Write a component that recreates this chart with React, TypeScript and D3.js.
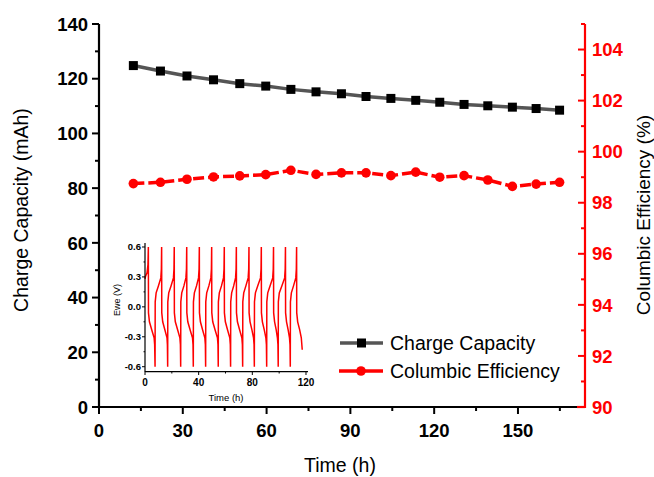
import React from "react";
import * as d3 from "d3";

const timeH = [12.3, 22.0, 31.5, 41.0, 50.4, 59.7, 68.7, 77.7, 86.8, 95.6, 104.5, 113.4, 122.0, 130.7, 139.2, 148.0, 156.5, 164.9];
const chargeCapacity = [124.8, 122.8, 121.0, 119.6, 118.2, 117.3, 116.1, 115.2, 114.5, 113.5, 112.8, 112.1, 111.4, 110.6, 110.1, 109.6, 109.1, 108.5];
const columbicEff = [98.75, 98.8, 98.92, 99.01, 99.05, 99.1, 99.27, 99.11, 99.17, 99.17, 99.06, 99.2, 99.0, 99.06, 98.89, 98.64, 98.73, 98.8];

const xTicks = [0, 30, 60, 90, 120, 150];
const yLeftTicks = [0, 20, 40, 60, 80, 100, 120, 140];
const yRightTicks = [90, 92, 94, 96, 98, 100, 102, 104];
const insetXTicks = [0, 40, 80, 120];
const insetYTicks = [-0.6, -0.3, 0.0, 0.3, 0.6];

// inset galvanostatic curve: [time (h), Ewe (V)]
const insetCurve: [number, number][] = [
  [0, 0.28], [0.5, 0.31], [1.5, 0.34], [2.2, 0.42], [2.5, 0.6],
  [2.6, -0.06], [3.3, -0.15], [5, -0.23], [6.8, -0.31], [7.2, -0.38], [7.5, -0.6],
  [7.6, 0.05], [8.3, 0.14], [10, 0.21], [11.8, 0.29], [12.2, 0.38], [12.4, 0.6],
  [12.5, -0.06], [13.2, -0.15], [14.8, -0.23], [16.4, -0.31], [16.7, -0.38], [16.9, -0.6],
  [17.0, 0.05], [17.7, 0.14], [19.4, 0.21], [21.2, 0.29], [21.6, 0.38], [21.8, 0.6],
  [21.9, -0.06], [22.6, -0.15], [24.3, -0.23], [26.0, -0.31], [26.4, -0.38], [26.6, -0.6],
  [26.7, 0.05], [27.4, 0.14], [29, 0.21], [30.5, 0.29], [30.9, 0.38], [31.1, 0.6],
  [31.2, -0.06], [31.9, -0.15], [33.6, -0.23], [35.4, -0.31], [35.8, -0.38], [36.0, -0.6],
  [36.1, 0.05], [36.8, 0.14], [38.4, 0.21], [39.9, 0.29], [40.3, 0.38], [40.5, 0.6],
  [40.6, -0.06], [41.3, -0.15], [42.9, -0.23], [44.6, -0.31], [45.0, -0.38], [45.2, -0.6],
  [45.3, 0.05], [46.0, 0.14], [47.6, 0.21], [49.1, 0.29], [49.5, 0.38], [49.7, 0.6],
  [49.8, -0.06], [50.5, -0.15], [52.2, -0.23], [54.0, -0.31], [54.4, -0.38], [54.6, -0.6],
  [54.7, 0.05], [55.4, 0.14], [57, 0.21], [58.5, 0.29], [58.9, 0.38], [59.1, 0.6],
  [59.2, -0.06], [59.9, -0.15], [61.5, -0.23], [63.2, -0.31], [63.6, -0.38], [63.8, -0.6],
  [63.9, 0.05], [64.6, 0.14], [66.1, 0.21], [67.5, 0.29], [67.9, 0.38], [68.1, 0.6],
  [68.2, -0.06], [68.9, -0.15], [70.5, -0.23], [72.2, -0.31], [72.6, -0.38], [72.8, -0.6],
  [72.9, 0.05], [73.6, 0.14], [75.2, 0.21], [76.9, 0.29], [77.3, 0.38], [77.5, 0.6],
  [77.6, -0.06], [78.3, -0.15], [79.7, -0.23], [80.9, -0.31], [81.3, -0.38], [81.5, -0.6],
  [81.6, 0.05], [82.3, 0.14], [84.0, 0.21], [86.1, 0.29], [86.5, 0.38], [86.7, 0.6],
  [86.8, -0.06], [87.5, -0.15], [88.9, -0.23], [90.1, -0.31], [90.5, -0.38], [90.7, -0.6],
  [90.8, 0.05], [91.5, 0.14], [93.2, 0.21], [95.2, 0.29], [95.6, 0.38], [95.8, 0.6],
  [95.9, -0.06], [96.6, -0.15], [97.8, -0.23], [98.7, -0.31], [99.1, -0.38], [99.3, -0.6],
  [99.4, 0.05], [100.1, 0.14], [102, 0.21], [104.1, 0.29], [104.5, 0.38], [104.7, 0.6],
  [104.8, -0.06], [105.5, -0.15], [106.7, -0.23], [107.7, -0.31], [108.1, -0.38], [108.3, -0.6],
  [108.4, 0.05], [109.1, 0.14], [110.7, 0.21], [112.4, 0.29], [112.8, 0.38], [113.0, 0.6],
  [113.1, -0.06], [113.8, -0.15], [115.3, -0.23], [116.5, -0.31], [117.2, -0.43],
];

const W = 654;
const H = 477;
const FONT = "Arial, 'Liberation Sans', sans-serif";
const RED = "#ff0000";

export default function App() {
  const x = d3.scaleLinear().domain([0, 174]).range([99, 585]);
  const yL = d3.scaleLinear().domain([0, 140]).range([407, 24]);
  const yR = d3.scaleLinear().domain([90, 105]).range([407, 24]);

  const ix = d3.scaleLinear().domain([0, 121.5]).range([145, 308]);
  const iy = d3.scaleLinear().domain([-0.65, 0.64]).range([371.7, 243]);

  const capLine = d3.line<number>().x((_, i) => x(timeH[i])).y((d) => yL(d));
  const effLine = d3.line<number>().x((_, i) => x(timeH[i])).y((d) => yR(d));
  const insetLine = d3.line<[number, number]>().x((d) => ix(d[0])).y((d) => iy(d[1]));

  const xMinor = d3.range(0, 175, 15).filter((v) => v % 30 !== 0);
  const yLMinor = d3.range(10, 140, 20);
  const yRMinor = d3.range(91, 106, 2);
  const ixMinor = [20, 60, 100];
  const iyMinor = [-0.45, -0.15, 0.15, 0.45];

  return (
    <svg width={W} height={H} style={{ position: "absolute", left: 0, top: 0 }} fontFamily={FONT}>
      <rect width={W} height={H} fill="#fff" />

      {/* left axis */}
      <line x1={99} x2={99} y1={yL(140)} y2={yL(0) + 1} stroke="#000" strokeWidth={2.2} />
      {yLeftTicks.map((t) => (
        <g key={"yl" + t}>
          <line x1={92} x2={99} y1={yL(t)} y2={yL(t)} stroke="#000" strokeWidth={2} />
          <text x={88} y={yL(t)} dy="0.36em" textAnchor="end" fontWeight="bold" fontSize={18.5}>{t}</text>
        </g>
      ))}
      {yLMinor.map((t) => (
        <line key={"ylm" + t} x1={95} x2={99} y1={yL(t)} y2={yL(t)} stroke="#000" strokeWidth={2} />
      ))}
      <line x1={99} x2={104} y1={yL(0)} y2={yL(0)} stroke="#000" strokeWidth={2} />

      {/* bottom axis */}
      <line x1={98} x2={585} y1={407} y2={407} stroke="#000" strokeWidth={2.2} />
      {xTicks.map((t) => (
        <g key={"x" + t}>
          <line x1={x(t)} x2={x(t)} y1={407} y2={414} stroke="#000" strokeWidth={2} />
          <text x={x(t)} y={437} textAnchor="middle" fontWeight="bold" fontSize={18.5}>{t}</text>
        </g>
      ))}
      {xMinor.map((t) => (
        <line key={"xm" + t} x1={x(t)} x2={x(t)} y1={407} y2={411} stroke="#000" strokeWidth={2} />
      ))}
      <text x={340} y={472} textAnchor="middle" fontSize={19.5}>Time (h)</text>

      {/* right axis */}
      <line x1={585} x2={585} y1={yR(105)} y2={yR(90) + 1} stroke={RED} strokeWidth={2.2} />
      <line x1={577} x2={585} y1={407} y2={407} stroke={RED} strokeWidth={2.2} />
      {yRightTicks.map((t) => (
        <g key={"yr" + t}>
          <line x1={578} x2={585} y1={yR(t)} y2={yR(t)} stroke={RED} strokeWidth={2} />
          <text x={592} y={yR(t)} dy="0.36em" textAnchor="start" fontWeight="bold" fontSize={18.5} fill={RED}>{t}</text>
        </g>
      ))}
      {yRMinor.map((t) => (
        <line key={"yrm" + t} x1={581} x2={585} y1={yR(t)} y2={yR(t)} stroke={RED} strokeWidth={2} />
      ))}

      {/* axis titles */}
      <text transform={`translate(28,210) rotate(-90)`} textAnchor="middle" fontSize={19.5}>Charge Capacity (mAh)</text>
      <text transform={`translate(650,215) rotate(-90)`} textAnchor="middle" fontSize={19}>Columbic Efficiency (%)</text>

      {/* series */}
      <path d={capLine(chargeCapacity) || ""} fill="none" stroke="#555" strokeWidth={3.5} />
      {chargeCapacity.map((v, i) => (
        <rect key={"s" + i} x={x(timeH[i]) - 4.5} y={yL(v) - 4.5} width={9} height={9} fill="#000" />
      ))}
      <path d={effLine(columbicEff) || ""} fill="none" stroke={RED} strokeWidth={3.5} strokeDasharray="11,4" />
      {columbicEff.map((v, i) => (
        <circle key={"c" + i} cx={x(timeH[i])} cy={yR(v)} r={4.8} fill={RED} />
      ))}

      {/* legend */}
      <line x1={340} x2={383} y1={343} y2={343} stroke="#555" strokeWidth={3.5} />
      <rect x={361.5 - 4.5} y={343 - 4.5} width={9} height={9} fill="#000" />
      <text x={390} y={343} dy="0.36em" fontSize={19.5}>Charge Capacity</text>
      <line x1={339} x2={383} y1={371} y2={371} stroke={RED} strokeWidth={3.5} />
      <circle cx={361} cy={371} r={4.8} fill={RED} />
      <text x={390} y={371} dy="0.36em" fontSize={19.5}>Columbic Efficiency</text>

      {/* inset */}
      <path d={insetLine(insetCurve) || ""} fill="none" stroke={RED} strokeWidth={1.5} />
      <line x1={145} x2={145} y1={243} y2={372} stroke="#000" strokeWidth={1.2} />
      <line x1={145} x2={308} y1={371.7} y2={371.7} stroke="#000" strokeWidth={1.2} />
      {insetYTicks.map((t) => (
        <g key={"iy" + t}>
          <line x1={142} x2={145} y1={iy(t)} y2={iy(t)} stroke="#000" strokeWidth={1} />
          <text x={141} y={iy(t)} dy="0.36em" textAnchor="end" fontWeight="bold" fontSize={9.5}>{t.toFixed(1)}</text>
        </g>
      ))}
      {iyMinor.map((t) => (
        <line key={"iym" + t} x1={143.5} x2={145} y1={iy(t)} y2={iy(t)} stroke="#000" strokeWidth={1} />
      ))}
      {insetXTicks.map((t) => (
        <g key={"ix" + t}>
          <line x1={ix(t)} x2={ix(t)} y1={371.7} y2={375} stroke="#000" strokeWidth={1} />
          <text x={ix(t)} y={386} textAnchor="middle" fontWeight="bold" fontSize={10}>{t}</text>
        </g>
      ))}
      {ixMinor.map((t) => (
        <line key={"ixm" + t} x1={ix(t)} x2={ix(t)} y1={371.7} y2={373.5} stroke="#000" strokeWidth={1} />
      ))}
      <text x={226} y={401} textAnchor="middle" fontSize={9.5}>Time (h)</text>
      <text transform={`translate(120,300) rotate(-90)`} textAnchor="middle" fontSize={9}>Ewe (V)</text>
    </svg>
  );
}
